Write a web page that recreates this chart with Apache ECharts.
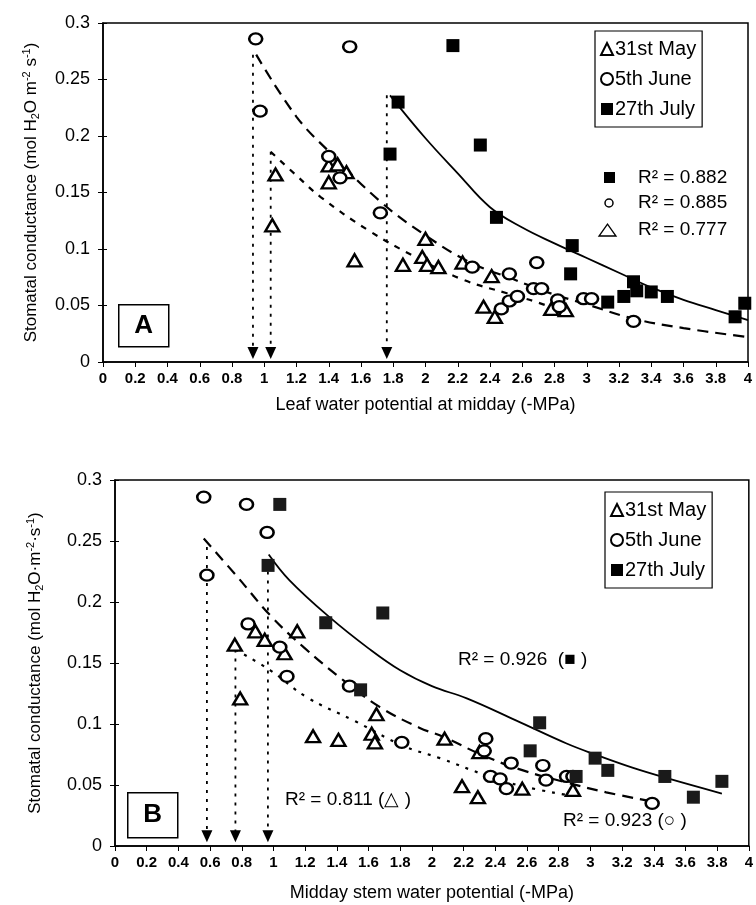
<!DOCTYPE html>
<html>
<head>
<meta charset="utf-8">
<script src="https://cdn.jsdelivr.net/npm/echarts@6/dist/echarts.min.js"></script>
<style>html,body{margin:0;padding:0;background:#fff}#c{width:756px;height:905px}</style>
</head>
<body>
<div id="c"></div>
<script>
// ---------- Panel A data (Leaf water potential at midday, -MPa) ----------
var seriesNames = ['31st May', '5th June', '27th July'];
var xTicks = [0, 0.2, 0.4, 0.6, 0.8, 1, 1.2, 1.4, 1.6, 1.8, 2, 2.2, 2.4, 2.6, 2.8, 3, 3.2, 3.4, 3.6, 3.8, 4];
var yTicks = [0, 0.05, 0.1, 0.15, 0.2, 0.25, 0.3];

var aMay = [[1.07,0.166],[1.05,0.121],[1.40,0.174],[1.455,0.175],[1.51,0.168],[1.40,0.159],[1.56,0.090],[1.86,0.086],[2.00,0.109],[1.98,0.093],[2.01,0.086],[2.08,0.084],[2.23,0.088],[2.41,0.076],[2.36,0.049],[2.43,0.040],[2.78,0.047],[2.87,0.046]];
var aJune = [[0.947,0.286],[1.53,0.279],[0.974,0.222],[1.40,0.182],[1.47,0.163],[1.72,0.132],[2.29,0.084],[2.52,0.078],[2.69,0.088],[2.67,0.065],[2.72,0.065],[2.47,0.047],[2.52,0.054],[2.57,0.058],[2.82,0.055],[2.83,0.049],[2.98,0.056],[3.03,0.056],[3.29,0.036]];
var aJuly = [[2.17,0.280],[1.83,0.230],[1.78,0.184],[2.34,0.192],[2.44,0.128],[2.91,0.103],[2.90,0.078],[3.13,0.053],[3.23,0.058],[3.29,0.071],[3.31,0.063],[3.40,0.062],[3.50,0.058],[3.92,0.040],[3.98,0.052]];

var aFitMay = [[1.04,0.186],[1.2,0.165],[1.35,0.146],[1.64,0.117],[1.95,0.092],[2.23,0.073],[2.5,0.061],[2.69,0.053],[2.86,0.044]];
var aFitJune = [[0.95,0.272],[1.2,0.217],[1.41,0.185],[1.72,0.142],[2.0,0.112],[2.28,0.088],[2.55,0.073],[2.75,0.062],[3.0,0.051],[3.3,0.038],[3.6,0.030],[4.0,0.022]];
var aFitJuly = [[1.78,0.236],[2.0,0.198],[2.2,0.167],[2.4,0.137],[2.6,0.119],[2.8,0.105],[3.0,0.092],[3.2,0.079],[3.4,0.066],[3.6,0.055],[3.8,0.046],[4.0,0.037]];

var aArrowX = [0.93, 1.04, 1.76];
var aArrowTop = [0.272, 0.186, 0.236];
var aR2 = ['R\u00b2 = 0.882', 'R\u00b2 = 0.885', 'R\u00b2 = 0.777'];

// ---------- Panel B data (Midday stem water potential, -MPa) ----------
var bMay = [[0.756,0.165],[0.79,0.121],[0.886,0.176],[0.945,0.169],[1.07,0.158],[1.15,0.176],[1.65,0.108],[1.25,0.090],[1.41,0.087],[1.62,0.092],[1.64,0.085],[2.08,0.088],[2.30,0.077],[2.19,0.049],[2.29,0.040],[2.57,0.047],[2.89,0.046]];
var bJune = [[0.56,0.286],[0.83,0.280],[0.96,0.257],[0.58,0.222],[0.84,0.182],[1.04,0.163],[1.085,0.139],[1.48,0.131],[1.81,0.085],[2.34,0.088],[2.33,0.078],[2.50,0.068],[2.70,0.066],[2.37,0.057],[2.43,0.055],[2.47,0.047],[2.72,0.054],[2.85,0.057],[2.89,0.057],[3.39,0.035]];
var bJuly = [[1.04,0.280],[0.966,0.230],[1.33,0.183],[1.69,0.191],[1.55,0.128],[2.68,0.101],[2.62,0.078],[2.91,0.057],[3.03,0.072],[3.11,0.062],[3.47,0.057],[3.65,0.040],[3.83,0.053]];

var bFitMay = [[0.76,0.161],[0.98,0.144],[1.21,0.122],[1.52,0.102],[1.82,0.082],[2.05,0.072],[2.34,0.058],[2.57,0.049],[2.89,0.041]];
var bFitJune = [[0.56,0.252],[0.77,0.221],[0.98,0.189],[1.19,0.163],[1.44,0.136],[1.67,0.114],[1.92,0.097],[2.07,0.0896],[2.31,0.075],[2.55,0.063],[2.85,0.052],[3.1,0.044],[3.37,0.037]];
var bFitJuly = [[0.97,0.239],[1.1,0.218],[1.35,0.188],[1.6,0.162],[1.8,0.144],[2.0,0.131],[2.22,0.121],[2.53,0.103],[2.85,0.084],[3.03,0.075],[3.27,0.064],[3.5,0.055],[3.83,0.043]];

var bArrowX = [0.58, 0.76, 0.965];
var bArrowTop = [0.245, 0.161, 0.225];
var bR2 = ['R\u00b2 = 0.926  (\u25a0 )', 'R\u00b2 = 0.811 (\u25b3 )', 'R\u00b2 = 0.923 (\u25cb )'];

// ---------- build chart ----------
var FONT = '"Liberation Sans", Arial, sans-serif';
var chart = echarts.init(document.getElementById('c'), null, {renderer: 'canvas'});

var grids = [
  {left: 103, top: 23, width: 645, height: 339, show: true, borderColor: '#000', borderWidth: 1.5, backgroundColor: 'transparent'},
  {left: 115, top: 480, width: 635, height: 366, show: true, borderColor: '#000', borderWidth: 1.5, backgroundColor: 'transparent'}
];

function xAxisDef(gi, name, gap) {
  return {
    type: 'value', gridIndex: gi, min: xTicks[0], max: xTicks[xTicks.length - 1], interval: 0.2,
    name: name, nameLocation: 'middle', nameGap: gap,
    nameTextStyle: {fontFamily: FONT, fontSize: 18, color: '#000'},
    axisLine: {lineStyle: {color: '#000', width: 1.5}},
    axisTick: {show: true, length: 5, lineStyle: {color: '#000', width: 1}},
    splitLine: {show: false},
    axisLabel: {fontFamily: FONT, fontSize: 15, fontWeight: 'bold', color: '#000', margin: 9,
      formatter: function (v) { return String(Math.round(v * 10) / 10); }}
  };
}
function xInnerTicks(gi) {
  return {type: 'value', gridIndex: gi, min: xTicks[0], max: xTicks[xTicks.length - 1], interval: 0.2,
    axisLine: {show: false}, axisLabel: {show: false}, splitLine: {show: false},
    axisTick: {show: true, inside: true, length: 4, lineStyle: {color: '#000', width: 1}}};
}
function yAxisDef(gi, gap, name) {
  return {
    type: 'value', gridIndex: gi, min: yTicks[0], max: yTicks[yTicks.length - 1], interval: 0.05,
    name: name, nameLocation: 'middle', nameGap: gap, nameRotate: 90,
    nameTextStyle: {fontFamily: FONT, fontSize: 17, color: '#000', lineHeight: 20,
      rich: {sup: {fontFamily: FONT, fontSize: 11, verticalAlign: 'top', lineHeight: 20, color: '#000'},
             sub: {fontFamily: FONT, fontSize: 11, verticalAlign: 'bottom', lineHeight: 20, color: '#000'},
             n: {fontFamily: FONT, fontSize: 17, lineHeight: 20, color: '#000'}}},
    axisLine: {show: true, lineStyle: {color: '#000', width: 1.5}},
    axisTick: {show: true, length: 5, lineStyle: {color: '#000', width: 1}},
    splitLine: {show: false},
    axisLabel: {fontFamily: FONT, fontSize: 18, color: '#000', margin: 13,
      formatter: function (v) { return String(Math.round(v * 100) / 100); }}
  };
}
function yInnerTicks(gi) {
  return {type: 'value', gridIndex: gi, min: yTicks[0], max: yTicks[yTicks.length - 1], interval: 0.05,
    position: 'left', axisLine: {show: false}, axisLabel: {show: false}, splitLine: {show: false},
    axisTick: {show: true, inside: true, length: 4, lineStyle: {color: '#000', width: 1}}};
}

var series = [];
function addPanel(gi, may, june, july, fMay, fJune, fJuly, arrX, arrTop, mayDash, julyColor) {
  series.push({name: seriesNames[0], type: 'scatter', xAxisIndex: gi, yAxisIndex: gi, data: may,
    symbol: 'triangle', symbolSize: [14, 12], z: 5,
    itemStyle: {color: '#fff', borderColor: '#000', borderWidth: 2.4, opacity: 1}});
  series.push({name: seriesNames[1], type: 'scatter', xAxisIndex: gi, yAxisIndex: gi, data: june,
    symbol: 'circle', symbolSize: [13, 11], z: 5,
    itemStyle: {color: '#fff', borderColor: '#000', borderWidth: 2.4, opacity: 1}});
  series.push({name: seriesNames[2], type: 'scatter', xAxisIndex: gi, yAxisIndex: gi, data: july,
    symbol: 'rect', symbolSize: 13, z: 6,
    itemStyle: {color: julyColor, borderColor: julyColor, borderWidth: 0, opacity: 1}});
  series.push({name: 'fitMay' + gi, type: 'line', xAxisIndex: gi, yAxisIndex: gi, data: fMay, smooth: 0.4,
    showSymbol: false, lineStyle: {color: '#000', width: 2.2, type: mayDash}, z: 3, silent: true});
  series.push({name: 'fitJune' + gi, type: 'line', xAxisIndex: gi, yAxisIndex: gi, data: fJune, smooth: 0.4,
    showSymbol: false, lineStyle: {color: '#000', width: 2.2, type: [11, 7]}, z: 3, silent: true});
  series.push({name: 'fitJuly' + gi, type: 'line', xAxisIndex: gi, yAxisIndex: gi, data: fJuly, smooth: 0.4,
    showSymbol: false, lineStyle: {color: '#000', width: 1.8, type: 'solid'}, z: 3, silent: true});
  for (var i = 0; i < arrX.length; i++) {
    series.push({name: 'vline' + gi + '_' + i, type: 'line', xAxisIndex: gi, yAxisIndex: gi,
      data: [[arrX[i], arrTop[i]], [arrX[i], 0.012]], showSymbol: false, silent: true,
      lineStyle: {color: '#000', width: 1.8, type: [3, 6]}, z: 2});
  }
  series.push({name: 'arrows' + gi, type: 'scatter', xAxisIndex: gi, yAxisIndex: gi,
    data: arrX.map(function (x) { return [x, 0.008]; }), symbol: 'triangle', symbolRotate: 180,
    symbolSize: [11, 12], itemStyle: {color: '#000', opacity: 1}, z: 4, silent: true});
}
addPanel(0, aMay, aJune, aJuly, aFitMay, aFitJune, aFitJuly, aArrowX, aArrowTop, [6, 7], '#000');
addPanel(1, bMay, bJune, bJuly, bFitMay, bFitJune, bFitJuly, bArrowX, bArrowTop, [3, 7], '#1a1a1a');

function legendDef(left, top) {
  return {
    data: seriesNames, orient: 'vertical', left: left, top: top,
    borderColor: '#000', borderWidth: 1.2, padding: [8, 6, 8, 5], itemGap: 10,
    itemWidth: 12, itemHeight: 12, selectedMode: false,
    textStyle: {fontFamily: FONT, fontSize: 20, color: '#000', padding: [0, 0, 0, -3]}
  };
}

function labelBox(x, y, w, h, t) {
  return {type: 'group', left: x, top: y, children: [
    {type: 'rect', shape: {x: 0, y: 0, width: w, height: h}, style: {fill: '#fff', stroke: '#000', lineWidth: 1.5}},
    {type: 'text', x: w / 2, y: h / 2, style: {text: t, font: 'bold 26px ' + FONT, fill: '#000', textAlign: 'center', textVerticalAlign: 'middle'}}
  ]};
}
function txt(x, y, s, size) {
  return {type: 'text', x: x, y: y, z: 10, style: {text: s, font: (size || 19) + 'px ' + FONT, fill: '#000', textVerticalAlign: 'middle'}};
}

var graphics = [
  labelBox(118, 304, 50, 42, 'A'),
  labelBox(127, 792, 50, 45, 'B'),
  // panel A R² key
  {type: 'rect', shape: {x: 604, y: 172, width: 11, height: 11}, style: {fill: '#000'}},
  {type: 'circle', shape: {cx: 609, cy: 203, r: 4}, style: {fill: '#fff', stroke: '#000', lineWidth: 1.5}},
  {type: 'polygon', shape: {points: [[599, 236], [616, 236], [607.5, 224]]}, style: {fill: '#fff', stroke: '#000', lineWidth: 1.3}},
  txt(638, 178, aR2[0]), txt(638, 203, aR2[1]), txt(638, 230, aR2[2]),
  // panel B R² annotations
  txt(458, 660, bR2[0], 19), txt(285, 800, bR2[1], 19), txt(563, 821, bR2[2], 19)
];

chart.setOption({
  animation: false,
  backgroundColor: '#fff',
  grid: grids,
  xAxis: [xAxisDef(0, 'Leaf water potential at midday (-MPa)', 34), xAxisDef(1, 'Midday stem water potential (-MPa)', 38),
          xInnerTicks(0), xInnerTicks(1)],
  yAxis: [
    yAxisDef(0, 62, '{n|Stomatal conductance (mol H}{sub|2}{n|O m}{sup|-2}{n| s}{sup|-1}{n|)}'),
    yAxisDef(1, 70, '{n|Stomatal conductance (mol H}{sub|2}{n|O\u00b7m}{sup|-2}{n|\u00b7s}{sup|-1}{n|)}'),
    yInnerTicks(0), yInnerTicks(1)
  ],
  legend: [legendDef(595, 31), legendDef(605, 492)],
  series: series,
  graphic: graphics
});
</script>
</body>
</html>
